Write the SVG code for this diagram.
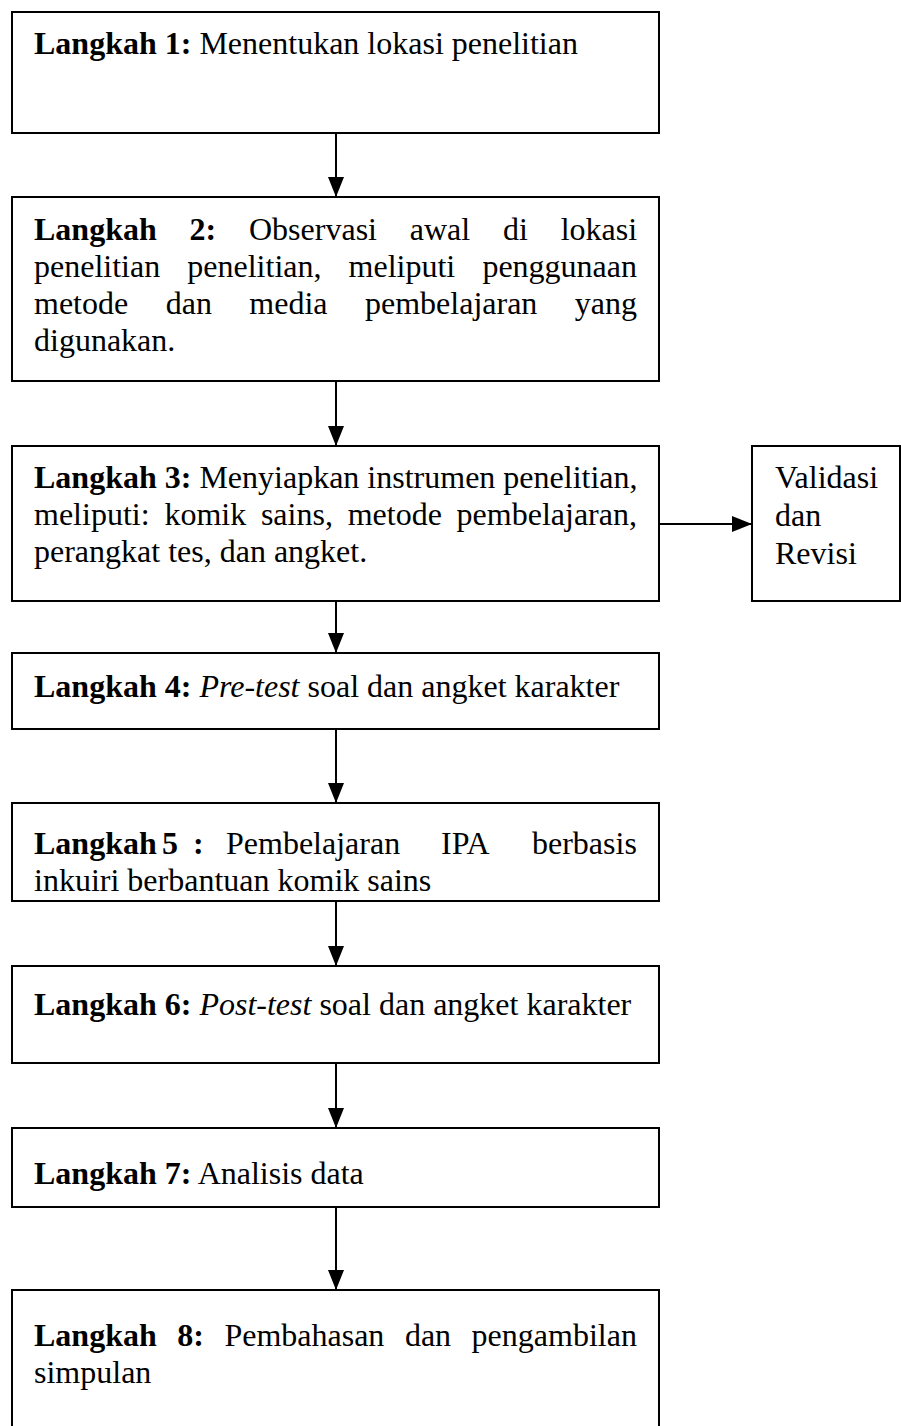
<svg xmlns="http://www.w3.org/2000/svg" width="901" height="1426" viewBox="0 0 901 1426">
<style>
.box{fill:#fff;stroke:#000;stroke-width:2}
text{font-family:"Liberation Serif","Times New Roman",serif;font-size:32px;fill:#000}
.b{font-weight:bold}
.i{font-style:italic}
.conn{stroke:#000;stroke-width:2;fill:none}
</style>
<defs>
<marker id="ah" markerUnits="userSpaceOnUse" markerWidth="20" markerHeight="16" refX="20" refY="8" orient="auto">
<path d="M0,0 L20,8 L0,16 z" fill="#000"/>
</marker>
</defs>
<rect width="901" height="1426" fill="#fff"/>
<g id="connectors">
<line class="conn" x1="336" y1="133" x2="336" y2="197" marker-end="url(#ah)"/>
<line class="conn" x1="336" y1="381" x2="336" y2="446" marker-end="url(#ah)"/>
<line class="conn" x1="659" y1="524" x2="752" y2="524" marker-end="url(#ah)"/>
<line class="conn" x1="336" y1="601" x2="336" y2="653" marker-end="url(#ah)"/>
<line class="conn" x1="336" y1="729" x2="336" y2="803" marker-end="url(#ah)"/>
<line class="conn" x1="336" y1="901" x2="336" y2="966" marker-end="url(#ah)"/>
<line class="conn" x1="336" y1="1063" x2="336" y2="1128" marker-end="url(#ah)"/>
<line class="conn" x1="336" y1="1207" x2="336" y2="1290" marker-end="url(#ah)"/>
</g>
<g id="step1">
<rect class="box" x="12" y="12" width="647" height="121"/>
<text x="34" y="54"><tspan class="b">Langkah 1:</tspan> Menentukan lokasi penelitian</text>
</g>
<g id="step2">
<rect class="box" x="12" y="197" width="647" height="184"/>
<text class="b" x="34" y="240">Langkah</text>
<text class="b" x="189.5" y="240">2:</text>
<text x="249" y="240">Observasi</text>
<text x="409.8" y="240">awal</text>
<text x="503" y="240">di</text>
<text x="560.7" y="240">lokasi</text>
<text x="34" y="277">penelitian</text>
<text x="187.3" y="277">penelitian,</text>
<text x="348.6" y="277">meliputi</text>
<text x="482.4" y="277">penggunaan</text>
<text x="34" y="314">metode</text>
<text x="165.7" y="314">dan</text>
<text x="249.3" y="314">media</text>
<text x="365" y="314">pembelajaran</text>
<text x="574.8" y="314">yang</text>
<text x="34" y="351">digunakan.</text>
</g>
<g id="step3">
<rect class="box" x="12" y="446" width="647" height="155"/>
<text x="34" y="488"><tspan class="b">Langkah 3:</tspan> Menyiapkan instrumen penelitian,</text>
<text x="34" y="525">meliputi:</text>
<text x="164.4" y="525">komik</text>
<text x="260.9" y="525">sains,</text>
<text x="347.7" y="525">metode</text>
<text x="456.6" y="525">pembelajaran,</text>
<text x="34" y="562">perangkat tes, dan angket.</text>
</g>
<g id="validasi">
<rect class="box" x="752" y="446" width="148" height="155"/>
<text x="775" y="488">Validasi</text>
<text x="775" y="526">dan</text>
<text x="775" y="564">Revisi</text>
</g>
<g id="step4">
<rect class="box" x="12" y="653" width="647" height="76"/>
<text x="34" y="697"><tspan class="b">Langkah 4:</tspan> <tspan class="i">Pre-test</tspan> soal dan angket karakter</text>
</g>
<g id="step5">
<rect class="box" x="12" y="803" width="647" height="98"/>
<text class="b" x="34" y="854">Langkah</text>
<text class="b" x="162" y="854">5</text>
<text class="b" x="193" y="854">:</text>
<text x="226" y="854">Pembelajaran</text>
<text x="441" y="854">IPA</text>
<text x="532" y="854">berbasis</text>
<text x="34" y="891">inkuiri berbantuan komik sains</text>
</g>
<g id="step6">
<rect class="box" x="12" y="966" width="647" height="97"/>
<text x="34" y="1015"><tspan class="b">Langkah 6:</tspan> <tspan class="i">Post-test</tspan> soal dan angket karakter</text>
</g>
<g id="step7">
<rect class="box" x="12" y="1128" width="647" height="79"/>
<text x="34" y="1184"><tspan class="b">Langkah 7:</tspan> Analisis data</text>
</g>
<g id="step8">
<rect class="box" x="12" y="1290" width="647" height="150"/>
<text class="b" x="34" y="1346">Langkah</text>
<text class="b" x="177.2" y="1346">8:</text>
<text x="224.4" y="1346">Pembahasan</text>
<text x="404.9" y="1346">dan</text>
<text x="471.6" y="1346">pengambilan</text>
<text x="34" y="1383">simpulan</text>
</g>
</svg>
